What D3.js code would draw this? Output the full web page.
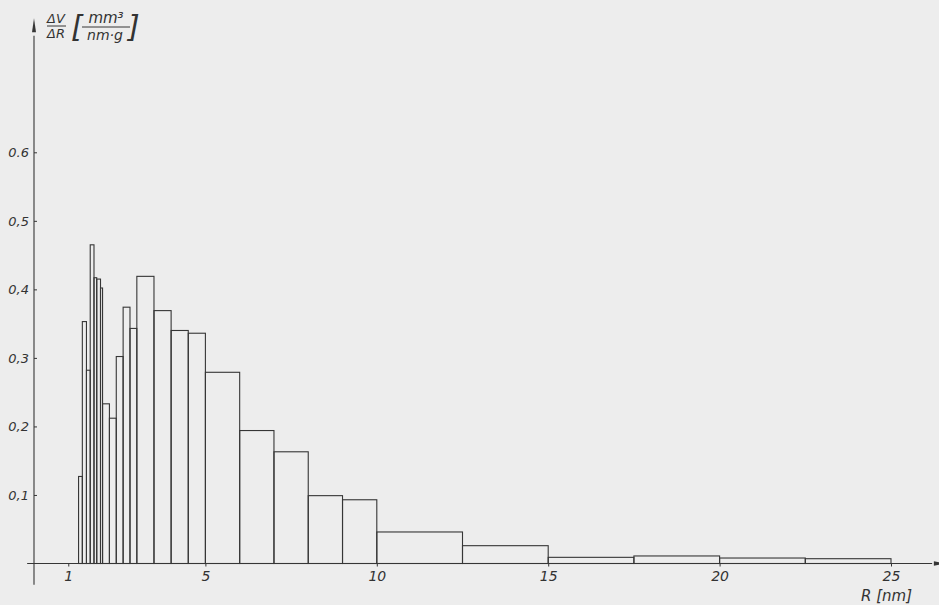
<!DOCTYPE html>
<html>
<head>
<meta charset="utf-8">
<script src="https://cdn.jsdelivr.net/npm/d3@7"></script>
<style>
  html, body { margin: 0; padding: 0; background: #ededed; }
  svg { display: block; }
  text { font-family: "DejaVu Sans", sans-serif; font-style: italic; fill: #333; }
</style>
</head>
<body>
<svg id="chart" width="939" height="605"></svg>
<script>
// bin edges of R [nm] (left edge of each bar, last value closes the last bar)
const binEdges = [1.3, 1.41, 1.53, 1.64, 1.75, 1.83, 1.94, 2.0, 2.2, 2.4, 2.6, 2.8, 3.0,
  3.5, 4.0, 4.5, 5, 6, 7, 8, 9, 10, 12.5, 15, 17.5, 20, 22.5, 25];
// dV/dR per bin [mm3 / (nm g)]
const dVdR = [0.127, 0.353, 0.282, 0.465, 0.417, 0.415, 0.402, 0.233, 0.212, 0.302, 0.374, 0.343,
  0.419, 0.369, 0.340, 0.336, 0.279, 0.194, 0.163, 0.099, 0.093, 0.046, 0.026, 0.009, 0.011, 0.008, 0.007];

const xTicks = [1, 5, 10, 15, 20, 25];
const yTicks = [0.1, 0.2, 0.3, 0.4, 0.5, 0.6];
const yTickLabels = ["0,1", "0,2", "0,3", "0,4", "0,5", "0.6"];

const svg = d3.select("#chart");
const ink = "#363636";

const x = d3.scaleLinear().domain([0, 25]).range([34, 891]);
const y = d3.scaleLinear().domain([0, 0.6]).range([563.5, 152.3]);

const bars = dVdR.map((v, i) => ({ x0: binEdges[i], x1: binEdges[i + 1], v: v }));

// bars (open rectangles as in the drawing)
svg.append("g")
  .selectAll("rect")
  .data(bars)
  .join("rect")
  .attr("x", d => x(d.x0))
  .attr("y", d => y(d.v))
  .attr("width", d => x(d.x1) - x(d.x0))
  .attr("height", d => y(0) - y(d.v))
  .attr("fill", "none")
  .attr("stroke", ink)
  .attr("stroke-width", 1.1);

// axis lines with arrows
svg.append("line")
  .attr("x1", x(-0.2)).attr("x2", x(26.2))
  .attr("y1", y(0)).attr("y2", y(0))
  .attr("stroke", ink).attr("stroke-width", 1.1);
svg.append("path")
  .attr("d", `M${x(26.25)},${y(0) - 2.2} L${x(26.25) + 12},${y(0)} L${x(26.25)},${y(0) + 2.2} Z`)
  .attr("fill", ink);

svg.append("line")
  .attr("x1", x(0)).attr("x2", x(0))
  .attr("y1", y(-0.031)).attr("y2", y(0.77))
  .attr("stroke", ink).attr("stroke-width", 1.1);
svg.append("path")
  .attr("d", `M${x(0) - 2},${y(0.775)} L${x(0)},${y(0.775) - 14} L${x(0) + 2},${y(0.775)} Z`)
  .attr("fill", ink);

// x axis ticks and labels
const xAxis = svg.append("g")
  .attr("transform", `translate(0,${y(0)})`)
  .call(d3.axisBottom(x).tickValues(xTicks).tickSizeInner(3).tickSizeOuter(0).tickPadding(5));
xAxis.select(".domain").remove();
xAxis.selectAll(".tick line").attr("stroke", ink);
xAxis.selectAll(".tick text").attr("font-size", 14).attr("font-family", null).style("fill", "#333");

// y axis ticks and labels (ticks point into the chart)
const yAxis = svg.append("g")
  .attr("transform", `translate(${x(0)},0)`)
  .call(d3.axisLeft(y).tickValues(yTicks).tickSizeInner(-3).tickSizeOuter(0).tickPadding(5)
    .tickFormat((d, i) => yTickLabels[i]));
yAxis.select(".domain").remove();
yAxis.selectAll(".tick line").attr("stroke", ink);
yAxis.selectAll(".tick text").attr("font-size", 13).attr("font-family", null).style("fill", "#333");

// x axis title
svg.append("text")
  .attr("x", 912).attr("y", 601)
  .attr("text-anchor", "end")
  .attr("font-size", 15)
  .text("R [nm]");

// y axis title: dV/dR [mm3 / nm g]
const title = svg.append("g");
title.append("text").attr("x", 56).attr("y", 23).attr("text-anchor", "middle")
  .attr("font-size", 13).text("ΔV");
title.append("line").attr("x1", 47).attr("x2", 66).attr("y1", 26).attr("y2", 26)
  .attr("stroke", ink).attr("stroke-width", 1);
title.append("text").attr("x", 56).attr("y", 38).attr("text-anchor", "middle")
  .attr("font-size", 13).text("ΔR");
title.append("text").attr("x", 71).attr("y", 37).attr("font-size", 30)
  .attr("font-style", "normal").style("font-weight", 200).text("[");
title.append("text").attr("x", 106).attr("y", 23).attr("text-anchor", "middle")
  .attr("font-size", 15).text("mm³");
title.append("line").attr("x1", 82).attr("x2", 130).attr("y1", 27).attr("y2", 27)
  .attr("stroke", ink).attr("stroke-width", 1);
title.append("text").attr("x", 105).attr("y", 40).attr("text-anchor", "middle")
  .attr("font-size", 14).text("nm·g");
title.append("text").attr("x", 128).attr("y", 37).attr("font-size", 30)
  .attr("font-style", "normal").style("font-weight", 200).text("]");
</script>
</body>
</html>
